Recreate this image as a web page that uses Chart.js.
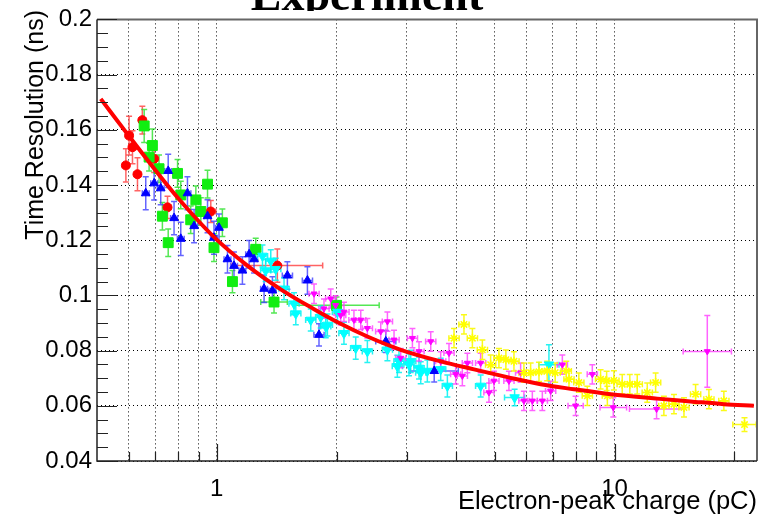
<!DOCTYPE html>
<html>
<head>
<meta charset="utf-8">
<script src="https://cdn.jsdelivr.net/npm/chart.js@4.4.1/dist/chart.umd.min.js"></script>
<style>
html, body { margin: 0; padding: 0; background: #fff; }
#wrap { width: 768px; height: 517px; }
</style>
</head>
<body>
<div id="wrap"><canvas id="mycanvas" width="768" height="517"></canvas></div>
<script>
// values (x in pC, y in ns); ex = multiplicative x error, ey = +/- y error
var redX = [0.591, 0.602, 0.614, 0.632, 0.650, 0.696, 0.752, 0.966, 1.42];
var redY = [0.1471, 0.1579, 0.1537, 0.1439, 0.1635, 0.1495, 0.1319, 0.1304, 0.1108];
var redEY = [0.006, 0.007, 0.006, 0.006, 0.005, 0.005, 0.004, 0.004, 0.006];
var redEX = [1.02, 1.02, 1.02, 1.02, 1.02, 1.02, 1.02, 1.03, 1.30];

var greenX = [0.657, 0.676, 0.689, 0.716, 0.730, 0.755, 0.797, 0.812, 0.860, 0.886, 0.912, 0.948, 0.984, 1.033, 1.095, 1.253, 1.393, 2.00];
var greenY = [0.1614, 0.1501, 0.1543, 0.1459, 0.1287, 0.1191, 0.1442, 0.1364, 0.1274, 0.1346, 0.1304, 0.1403, 0.1173, 0.1263, 0.1050, 0.1167, 0.0976, 0.0964];
var greenEY = [0.006, 0.005, 0.006, 0.005, 0.005, 0.005, 0.005, 0.005, 0.005, 0.005, 0.005, 0.005, 0.005, 0.005, 0.004, 0.004, 0.004, 0.003];
var greenEX = [1.02, 1.02, 1.02, 1.02, 1.02, 1.02, 1.02, 1.02, 1.02, 1.02, 1.02, 1.02, 1.02, 1.02, 1.02, 1.03, 1.08, 1.28];

var blueX = [0.663, 0.696, 0.723, 0.755, 0.781, 0.812, 0.844, 0.877, 0.948, 0.984, 1.013, 1.064, 1.105, 1.160, 1.206, 1.241, 1.315, 1.380, 1.505, 1.690, 1.807, 2.66, 3.52];
var blueY = [0.1370, 0.1406, 0.1388, 0.1451, 0.1280, 0.1205, 0.1370, 0.1251, 0.1287, 0.1209, 0.1245, 0.1131, 0.1107, 0.1090, 0.1149, 0.1131, 0.1024, 0.1018, 0.1072, 0.1054, 0.0857, 0.0833, 0.0726];
var blueEY = [0.006, 0.006, 0.006, 0.006, 0.006, 0.006, 0.006, 0.006, 0.006, 0.006, 0.005, 0.005, 0.005, 0.005, 0.005, 0.005, 0.005, 0.005, 0.005, 0.005, 0.004, 0.004, 0.004];
var blueEX = [1.02, 1.02, 1.02, 1.02, 1.02, 1.02, 1.02, 1.02, 1.02, 1.02, 1.02, 1.02, 1.02, 1.02, 1.02, 1.02, 1.02, 1.02, 1.03, 1.03, 1.03, 1.06, 1.15];

var cyanX = [1.303, 1.327, 1.367, 1.407, 1.476, 1.564, 1.580, 1.723, 1.825, 1.879, 1.897, 2.011, 2.088, 2.235, 2.391, 2.685, 2.844, 2.871, 3.042, 3.073, 3.224, 3.256, 3.383, 3.655, 3.799, 4.606, 5.606, 6.838];
var cyanY = [0.1143, 0.1090, 0.1125, 0.1095, 0.1024, 0.0970, 0.0934, 0.0911, 0.0922, 0.0887, 0.0893, 0.0940, 0.0863, 0.0809, 0.0797, 0.0803, 0.0743, 0.0761, 0.0749, 0.0761, 0.0737, 0.0720, 0.0726, 0.0732, 0.0672, 0.0672, 0.0630, 0.0749];
var cyanEY = [0.004, 0.004, 0.004, 0.004, 0.004, 0.004, 0.004, 0.004, 0.004, 0.004, 0.004, 0.004, 0.004, 0.004, 0.004, 0.004, 0.004, 0.004, 0.004, 0.004, 0.004, 0.004, 0.004, 0.004, 0.004, 0.004, 0.003, 0.0072];
var cyanEX = [1.03, 1.03, 1.03, 1.03, 1.03, 1.03, 1.03, 1.03, 1.03, 1.03, 1.03, 1.03, 1.03, 1.03, 1.03, 1.03, 1.03, 1.03, 1.03, 1.03, 1.03, 1.03, 1.03, 1.03, 1.03, 1.03, 1.06, 1.06];

var magX = [1.756, 1.860, 1.934, 1.990, 2.049, 2.088, 2.212, 2.301, 2.391, 2.583, 2.685, 2.790, 2.900, 3.103, 3.224, 3.450, 3.655, 3.835, 3.986, 4.143, 4.265, 4.606, 4.833, 4.974, 5.425, 5.805, 5.916, 6.212, 6.582, 6.906, 7.390, 7.98, 8.79, 9.925, 12.75, 17.10];
var magY = [0.1006, 0.0952, 0.0988, 0.0964, 0.0928, 0.0940, 0.0911, 0.0911, 0.0881, 0.0869, 0.0905, 0.0839, 0.0773, 0.0845, 0.0797, 0.0833, 0.0761, 0.0791, 0.0714, 0.0708, 0.0755, 0.0755, 0.0648, 0.0690, 0.0690, 0.0720, 0.0618, 0.0618, 0.0618, 0.0654, 0.0749, 0.0600, 0.0714, 0.0594, 0.0588, 0.0797];
var magEY = [0.0035, 0.0035, 0.0035, 0.0035, 0.0035, 0.0035, 0.0035, 0.0035, 0.0035, 0.0035, 0.0035, 0.0035, 0.0035, 0.0035, 0.0035, 0.0035, 0.0035, 0.0035, 0.0035, 0.0035, 0.0035, 0.0035, 0.0035, 0.0035, 0.0035, 0.0035, 0.0035, 0.0035, 0.0035, 0.0035, 0.0035, 0.0035, 0.0035, 0.0035, 0.0035, 0.013];
var magEX = [1.03, 1.03, 1.03, 1.03, 1.03, 1.03, 1.03, 1.03, 1.03, 1.03, 1.03, 1.03, 1.03, 1.03, 1.03, 1.03, 1.03, 1.03, 1.03, 1.03, 1.03, 1.03, 1.03, 1.03, 1.03, 1.03, 1.03, 1.03, 1.03, 1.03, 1.03, 1.045, 1.03, 1.08, 1.17, 1.15];

var yelX = [3.948, 4.182, 4.391, 4.652, 4.880, 5.120, 5.330, 5.585, 5.916, 6.151, 6.455, 6.770, 7.090, 7.560, 7.680, 8.130, 8.540, 9.220, 9.550, 9.590, 9.960, 10.45, 10.92, 11.40, 12.08, 12.68, 13.30, 14.10, 14.94, 15.98, 17.26, 18.82, 21.21];
var yelY = [0.0845, 0.0895, 0.0845, 0.0803, 0.0749, 0.0773, 0.0767, 0.0761, 0.0720, 0.0720, 0.0723, 0.0726, 0.0720, 0.0726, 0.0696, 0.0684, 0.0636, 0.0696, 0.0690, 0.0636, 0.0692, 0.0678, 0.0678, 0.0678, 0.0648, 0.0684, 0.0600, 0.0606, 0.0594, 0.0642, 0.0624, 0.0618, 0.0532];
var yelEY = [0.0035, 0.0035, 0.0035, 0.0035, 0.0035, 0.0035, 0.0035, 0.0035, 0.0035, 0.0035, 0.0035, 0.0035, 0.0035, 0.0035, 0.0035, 0.0035, 0.0035, 0.0035, 0.0035, 0.0035, 0.0035, 0.0035, 0.0035, 0.0035, 0.0035, 0.0035, 0.0035, 0.0035, 0.0035, 0.0035, 0.0035, 0.0035, 0.0025];
var yelEX = [1.03, 1.03, 1.03, 1.03, 1.03, 1.03, 1.03, 1.03, 1.03, 1.03, 1.03, 1.03, 1.03, 1.03, 1.03, 1.03, 1.03, 1.03, 1.03, 1.03, 1.03, 1.03, 1.03, 1.03, 1.03, 1.03, 1.03, 1.03, 1.03, 1.03, 1.03, 1.03, 1.07];

// fit curve, read point by point
var fitX = [0.511, 0.601, 0.723, 0.812, 0.983, 1.196, 1.448, 1.752, 2.049, 2.391, 2.900, 3.655, 4.432, 5.375, 6.520, 7.903, 9.770, 12.80, 15.52, 18.82, 22.39];
var fitY = [0.1712, 0.1578, 0.1429, 0.1341, 0.1212, 0.1107, 0.1022, 0.0951, 0.0897, 0.0851, 0.0803, 0.0761, 0.0732, 0.0704, 0.0678, 0.0660, 0.0642, 0.0626, 0.0616, 0.0606, 0.0600];

// axis ticks
var xGrid = [0.6, 0.7, 0.8, 0.9, 1, 2, 3, 4, 5, 6, 7, 8, 9, 10, 20];
var xLabels = [1, 10];

function pts(xs, ys) {
	var out = [];
	for (var i in xs) {
		out.push({x: xs[i], y: ys[i]});
	}
	return out;
}

function series(label, xs, ys, ey, ex, color, bar, style, radius, rot, order) {
	return {
		label: label,
		data: pts(xs, ys),
		ey: ey,
		ex: ex,
		barColor: bar,
		showLine: false,
		pointStyle: style,
		pointRadius: radius,
		pointRotation: rot,
		backgroundColor: color,
		borderColor: color,
		pointBorderWidth: style === 'star' ? 1.6 : 1,
		order: order
	};
}

var errorBars = {
	id: 'errorBars',
	beforeDatasetsDraw: function(chart) {
		var ctx = chart.ctx, xs = chart.scales.x, ys = chart.scales.y, a = chart.chartArea;
		ctx.save();
		ctx.beginPath();
		ctx.rect(a.left, a.top, a.right - a.left, a.bottom - a.top);
		ctx.clip();
		ctx.lineWidth = 1.5;
		var sets = chart.data.datasets.slice().sort(function(p, q) { return q.order - p.order; });
		sets.forEach(function(ds) {
			if (!ds.ey) return;
			ctx.strokeStyle = ds.barColor;
			ds.data.forEach(function(p, i) {
				var px = xs.getPixelForValue(p.x), py = ys.getPixelForValue(p.y);
				var x1 = xs.getPixelForValue(p.x / ds.ex[i]), x2 = xs.getPixelForValue(p.x * ds.ex[i]);
				var y1 = ys.getPixelForValue(p.y - ds.ey[i]), y2 = ys.getPixelForValue(p.y + ds.ey[i]);
				ctx.beginPath();
				ctx.moveTo(x1, py); ctx.lineTo(x2, py);
				ctx.moveTo(px, y1); ctx.lineTo(px, y2);
				ctx.moveTo(x1, py - 3); ctx.lineTo(x1, py + 3);
				ctx.moveTo(x2, py - 3); ctx.lineTo(x2, py + 3);
				ctx.moveTo(px - 3, y1); ctx.lineTo(px + 3, y1);
				ctx.moveTo(px - 3, y2); ctx.lineTo(px + 3, y2);
				ctx.stroke();
			});
		});
		ctx.restore();
	}
};

var frame = {
	id: 'frame',
	afterDraw: function(chart) {
		var ctx = chart.ctx, xs = chart.scales.x, ys = chart.scales.y, a = chart.chartArea;
		ctx.save();
		// frame
		ctx.strokeStyle = '#666';
		ctx.lineWidth = 2;
		ctx.beginPath();
		ctx.moveTo(a.left, a.top); ctx.lineTo(a.right, a.top); ctx.lineTo(a.right, a.bottom);
		ctx.stroke();
		ctx.strokeStyle = '#222';
		ctx.lineWidth = 1.5;
		ctx.beginPath();
		ctx.moveTo(a.left, a.top); ctx.lineTo(a.left, a.bottom); ctx.lineTo(a.right, a.bottom);
		ctx.stroke();
		// y ticks, inside
		ctx.lineWidth = 1.2;
		ctx.beginPath();
		for (var i = 0; i <= 32; i++) {
			var v = 0.04 + i * 0.005;
			var py = Math.round(ys.getPixelForValue(v)) + 0.5;
			var len = (i % 4 === 0) ? 20 : 11;
			ctx.moveTo(a.left, py); ctx.lineTo(a.left + len, py);
		}
		// x ticks, inside
		xGrid.forEach(function(v) {
			var px = Math.round(xs.getPixelForValue(v)) + 0.5;
			var len = xLabels.indexOf(v) >= 0 ? 17 : 9;
			ctx.moveTo(px, a.bottom); ctx.lineTo(px, a.bottom - len);
		});
		ctx.stroke();
		// axis titles
		ctx.fillStyle = '#000';
		ctx.font = '25.5px "Liberation Sans", Arial, sans-serif';
		ctx.textAlign = 'right';
		ctx.textBaseline = 'alphabetic';
		ctx.fillText('Electron-peak charge (pC)', a.right, 509);
		ctx.save();
		ctx.translate(43, 10);
		ctx.rotate(-Math.PI / 2);
		ctx.font = '25px "Liberation Sans", Arial, sans-serif';
		ctx.fillText('Time Resolution (ns)', 0, 0);
		ctx.restore();
		// title, cut at the top of the canvas
		ctx.save();
		ctx.beginPath();
		ctx.rect(0, 0, chart.width, 11);
		ctx.clip();
		ctx.font = 'bold 46px "Liberation Serif", "DejaVu Serif", serif';
		ctx.textAlign = 'center';
		ctx.fillText('Experiment', 367, 10);
		ctx.restore();
		ctx.restore();
	}
};

var ctx = document.getElementById('mycanvas');

var chartdata = {
	datasets: [
		{
			type: 'line',
			label: 'fit',
			data: pts(fitX, fitY),
			borderColor: '#ff0000',
			borderWidth: 4,
			pointRadius: 0,
			showLine: true,
			fill: false,
			cubicInterpolationMode: 'monotone',
			order: 0
		},
		series('A', redX, redY, redEY, redEX, '#ff0000', 'rgba(255,60,60,0.8)', 'circle', 4.5, 0, 6),
		series('B', greenX, greenY, greenEY, greenEX, '#11ee11', 'rgba(40,225,40,0.8)', 'rect', 7, 0, 5),
		series('C', blueX, blueY, blueEY, blueEX, '#0000ff', 'rgba(50,50,255,0.75)', 'triangle', 5, 0, 4),
		series('D', cyanX, cyanY, cyanEY, cyanEX, '#00ffff', 'rgba(0,240,240,0.85)', 'triangle', 5.5, 180, 3),
		series('E', magX, magY, magEY, magEX, '#ff00ff', 'rgba(255,60,255,0.8)', 'triangle', 3.5, 180, 2),
		series('F', yelX, yelY, yelEY, yelEX, '#ffff00', 'rgba(250,250,0,0.9)', 'star', 4.5, 0, 1)
	]
};

var scatter = new Chart(ctx, {
	type: 'scatter',
	data: chartdata,
	plugins: [errorBars, frame],
	options: {
		responsive: false,
		animation: false,
		devicePixelRatio: 1,
		events: [],
		layout: { padding: { top: 14, right: 11, left: 0, bottom: 0 } },
		plugins: {
			legend: { display: false },
			tooltip: { enabled: false },
			title: { display: false }
		},
		scales: {
			x: {
				type: 'logarithmic',
				min: 0.5,
				max: 22.8,
				afterBuildTicks: function(scale) {
					scale.ticks = xGrid.map(function(v) { return {value: v}; });
				},
				afterFit: function(scale) { scale.height = 56; },
				grid: { color: '#000', lineWidth: 1, drawTicks: false },
				border: { display: false, dash: [1, 3] },
				ticks: {
					autoSkip: false,
					maxRotation: 0,
					padding: 14,
					color: '#000',
					font: { family: '"Liberation Sans", Arial, sans-serif', size: 24 },
					callback: function(v) { return xLabels.indexOf(v) >= 0 ? String(v) : ''; }
				}
			},
			y: {
				min: 0.04,
				max: 0.2,
				afterFit: function(scale) { scale.width = 97; },
				grid: { color: '#000', lineWidth: 1, drawTicks: false },
				border: { display: false, dash: [1, 3] },
				ticks: {
					stepSize: 0.02,
					padding: 5,
					color: '#000',
					font: { family: '"Liberation Sans", Arial, sans-serif', size: 24 },
					callback: function(v) { return String(Math.round(v * 100) / 100); }
				}
			}
		}
	}
});
</script>
</body>
</html>
